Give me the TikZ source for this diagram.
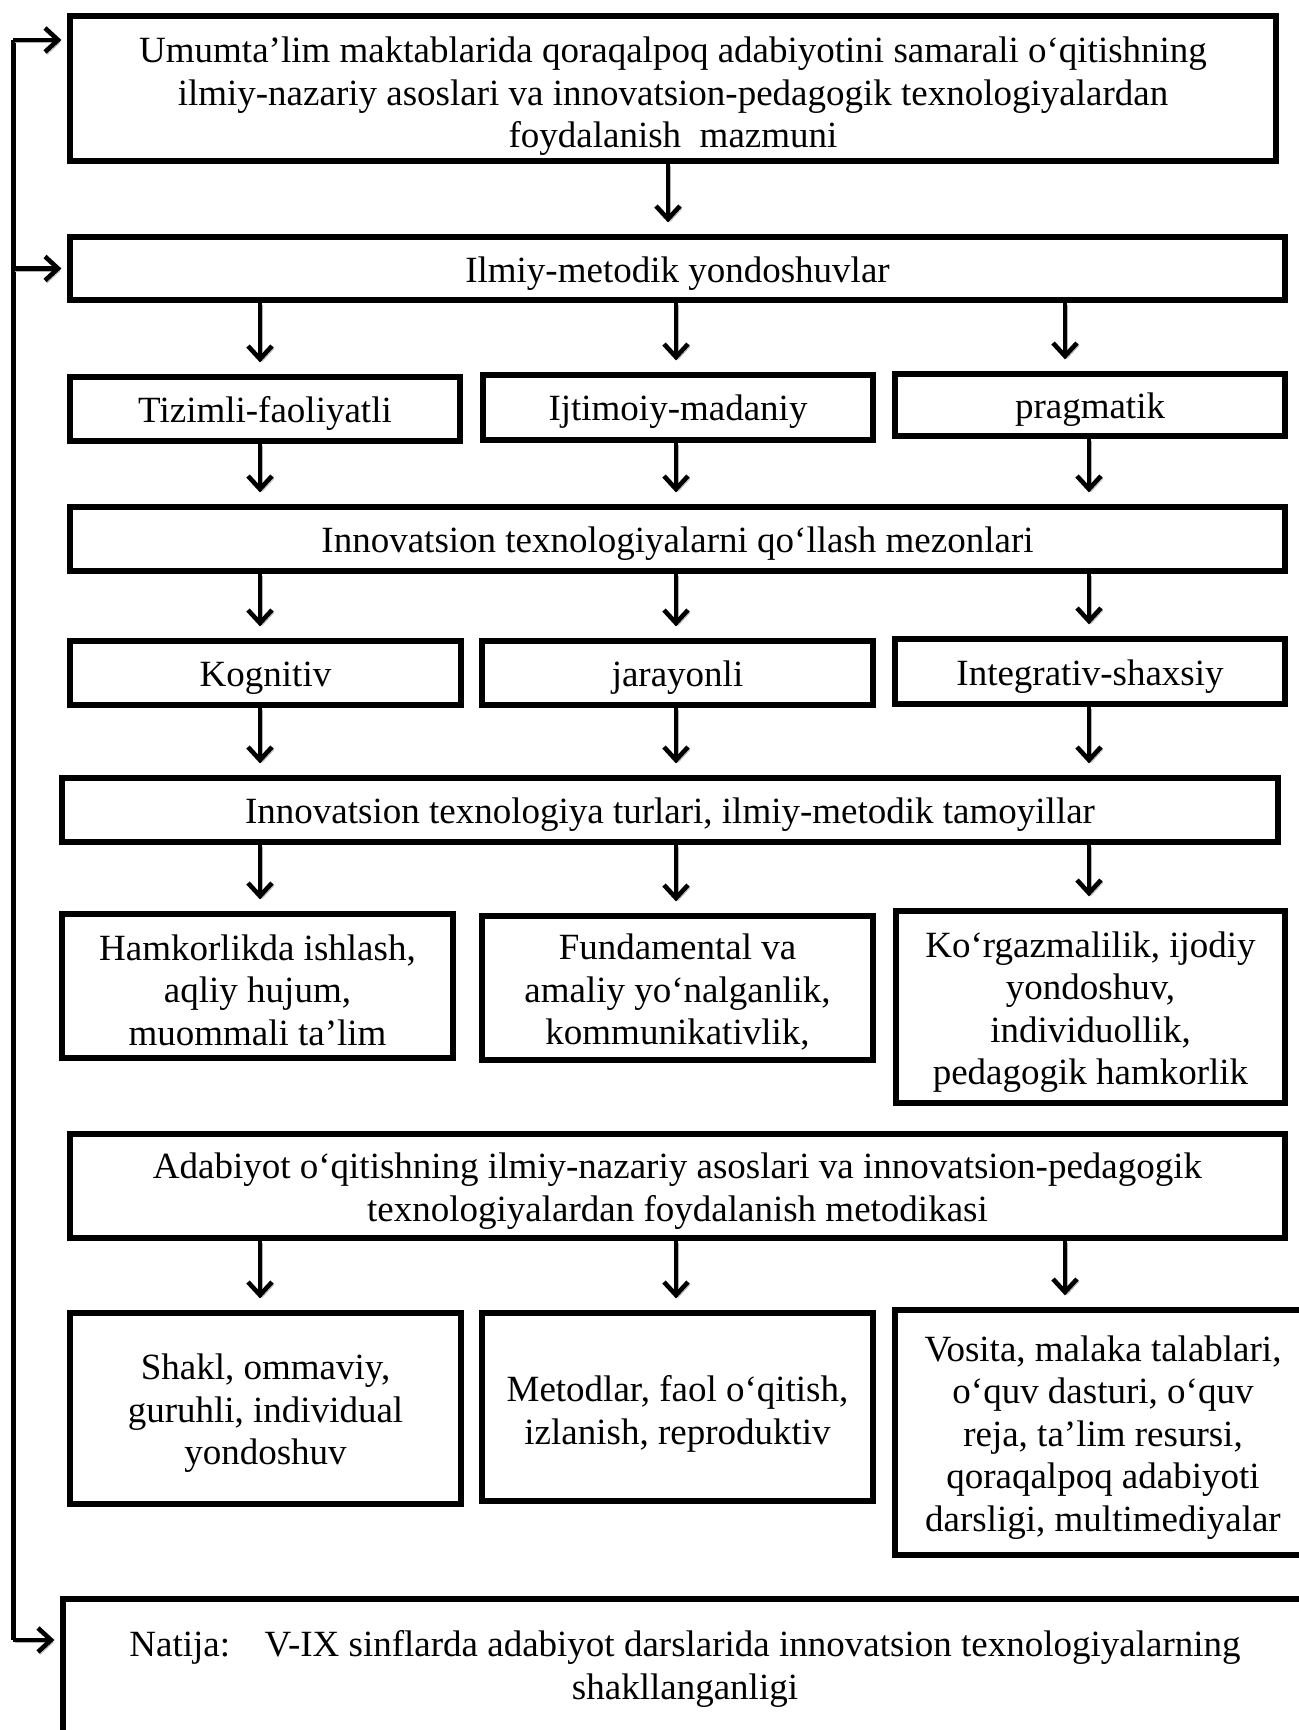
\documentclass[tikz,border=0pt]{standalone}
\usepackage{fontspec}
\setmainfont{Liberation Serif}
\usetikzlibrary{arrows.meta,calc}
\newcommand\bxt[7]{%
  \node[box, rect={#2}{#3}{#4}{#5}] (#1) {};
  \node[txt, yshift={-(#6)*0.5pt}] (#1-t) at (#1.center) {#7};}
\begin{document}
\begin{tikzpicture}[x=0.5pt,y=-0.5pt,
  box/.style={draw, line width=2.6pt, inner sep=0pt},
  txt/.style={inner sep=0pt, align=center,
    font=\fontsize{18.5pt}{21.25pt}\selectfont},
  rect/.style n args={4}{minimum width={(#3-#1)*0.5pt}, minimum height={(#4-#2)*0.5pt},
    at={({(#1+#3)/2},{(#2+#4)/2})}},
  arr/.style={line width=2.3pt, -{Straight Barb[length=6.5pt,width=12pt]},
    shorten >=6pt,
    preaction={draw=black!30, transform canvas={xshift=1pt,yshift=-1.2pt}}},
  harr/.style={arr, shorten >=3pt},
  fbline/.style={line width=2.5pt}
]
\useasboundingbox (0,0) rectangle (1299,1730);
\clip (0,0) rectangle (1299,1730);
\fill[white] (0,0) rectangle (1299,1730);

\bxt{A}{70}{16}{1276}{161}{8}{Umumta’lim maktablarida qoraqalpoq adabiyotini samarali o‘qitishning\\ ilmiy-nazariy asoslari va innovatsion-pedagogik texnologiyalardan\\ foydalanish\ \ mazmuni}
\bxt{B}{70}{237}{1285}{300}{5}{Ilmiy-metodik yondoshuvlar}
\bxt{T1}{70}{377}{460}{441}{4}{Tizimli-faoliyatli}
\bxt{T2}{483}{375}{873}{440}{4}{Ijtimoiy-madaniy}
\bxt{T3}{895}{374}{1285}{436}{5}{pragmatik}
\bxt{C}{70}{507}{1285}{571}{5}{Innovatsion texnologiyalarni qo‘llash mezonlari}
\bxt{K1}{70}{641}{461}{705}{5}{Kognitiv}
\bxt{K2}{482}{641}{873}{705}{5}{jarayonli}
\bxt{K3}{895}{639}{1285}{704}{5}{Integrativ-shaxsiy}
\bxt{D}{62}{778}{1278}{842}{5}{Innovatsion texnologiya turlari, ilmiy-metodik tamoyillar}
\bxt{H1}{62}{914}{453}{1058}{4}{Hamkorlikda ishlash,\\ aqliy hujum,\\ muommali ta’lim}
\bxt{H2}{482}{916}{873}{1060}{4}{Fundamental va\\ amaliy yo‘nalganlik,\\ kommunikativlik,}
\bxt{H3}{896}{911}{1285}{1103}{5}{Ko‘rgazmalilik, ijodiy\\ yondoshuv,\\ individuollik,\\ pedagogik hamkorlik}
\bxt{E}{70}{1134}{1285}{1238}{5}{Adabiyot o‘qitishning ilmiy-nazariy asoslari va innovatsion-pedagogik\\ texnologiyalardan foydalanish metodikasi}
\bxt{S1}{70}{1313}{461}{1504}{5}{Shakl, ommaviy,\\ guruhli, individual\\ yondoshuv}
\bxt{S2}{482}{1313}{873}{1501}{7}{Metodlar, faol o‘qitish,\\ izlanish, reproduktiv}
\bxt{S3}{895}{1310}{1311}{1555}{5}{Vosita, malaka talablari,\\ o‘quv dasturi, o‘quv\\ reja, ta’lim resursi,\\ qoraqalpoq adabiyoti\\ darsligi, multimediyalar}
\bxt{F}{63}{1599}{1307}{1735}{2}{Natija:\hspace{0.6em} V-IX sinflarda adabiyot darslarida innovatsion texnologiyalarning\\ shakllanganligi}

\coordinate (cA) at (668,0);
\coordinate (c1) at (260,0);
\coordinate (c2) at (676,0);
\coordinate (c3) at (1089,0);
\coordinate (c3b) at (1065,0);
\coordinate (fbtop) at (13,40);
\coordinate (fbbot) at (13,1640);

\draw[arr] (A.south -| cA) -- (B.north -| cA);
\draw[arr] (B.south -| c1) -- (T1.north -| c1);
\draw[arr] (B.south -| c2) -- (T2.north -| c2);
\draw[arr] (B.south -| c3b) -- (T3.north -| c3b);
\draw[arr] (T1.south -| c1) -- (C.north -| c1);
\draw[arr] (T2.south -| c2) -- (C.north -| c2);
\draw[arr] (T3.south -| c3) -- (C.north -| c3);
\draw[arr] (C.south -| c1) -- (K1.north -| c1);
\draw[arr] (C.south -| c2) -- (K2.north -| c2);
\draw[arr] (C.south -| c3) -- (K3.north -| c3);
\draw[arr] (K1.south -| c1) -- (D.north -| c1);
\draw[arr] (K2.south -| c2) -- (D.north -| c2);
\draw[arr] (K3.south -| c3) -- (D.north -| c3);
\draw[arr] (D.south -| c1) -- (H1.north -| c1);
\draw[arr] (D.south -| c2) -- (H2.north -| c2);
\draw[arr] (D.south -| c3) -- (H3.north -| c3);
\draw[arr] (E.south -| c1) -- (S1.north -| c1);
\draw[arr] (E.south -| c2) -- (S2.north -| c2);
\draw[arr] (E.south -| c3b) -- (S3.north -| c3b);

\draw[fbline] (fbtop) -- (fbbot);
\draw[harr] (fbtop) -- (A.west |- fbtop);
\draw[harr] (B.west -| fbtop) -- (B.west);
\draw[harr] (fbbot) -- (F.west |- fbbot);
\end{tikzpicture}
\end{document}
